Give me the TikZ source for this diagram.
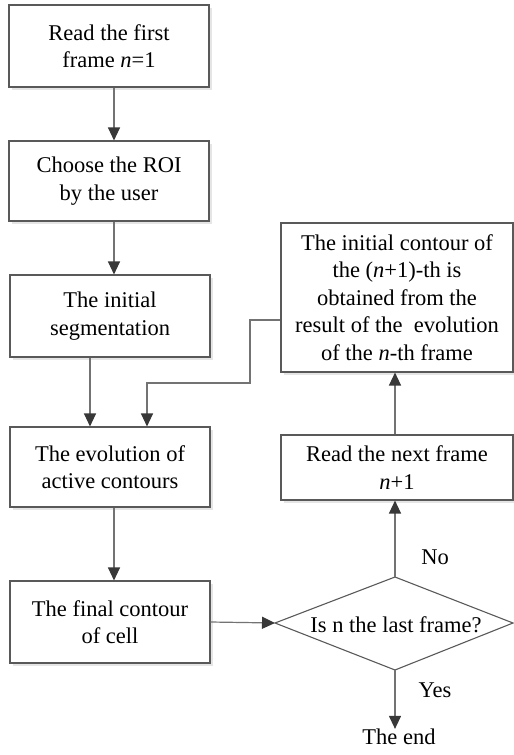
\documentclass[tikz,border=0pt]{standalone}
\usepackage{fontspec}
\setmainfont{Liberation Serif}
\usetikzlibrary{arrows.meta,shadows}
\begin{document}
\begin{tikzpicture}[x=1pt,y=-1pt,
 box/.style={draw=black!65, line width=1.1pt, fill=white, align=center, inner sep=0pt,
   font=\fontsize{22.5}{27.5}\selectfont,
   drop shadow={shadow xshift=3pt, shadow yshift=-3pt, fill=black!10, opacity=1}},
 conn/.style={draw=black!55, line width=1.2pt, -{Triangle[length=13pt,width=12pt,color=black!78]}},
 lbl/.style={font=\fontsize{22.5}{27.5}\selectfont, inner sep=0pt}]
\useasboundingbox (0,0) rectangle (514,755);
% left column
\node[box, minimum width=200pt, minimum height=82pt] (b1) at (109,46) {Read the first\\frame \textit{n}=1};
\node[box, minimum width=200pt, minimum height=80pt] (b2) at (109,181) {Choose the ROI\\by the user};
\node[box, minimum width=200pt, minimum height=82pt] (b3) at (110,316) {The initial\\segmentation};
\node[box, minimum width=200pt, minimum height=80pt] (b4) at (110,467) {The evolution of\\active contours};
\node[box, minimum width=200pt, minimum height=82pt] (b5) at (110,622) {The final contour\\of cell};
% right column
\node[box, minimum width=232pt, minimum height=149pt] (b6) at (397,297.5) {The initial contour of\\the (\textit{n}+1)-th is\\obtained from the\\result of the \ evolution\\of the \textit{n}-th frame};
\node[box, minimum width=232pt, minimum height=65pt] (b7) at (397,467.5) {Read the next frame\\\textit{n}+1};
% decision
\coordinate (dL) at (275,623);
\coordinate (dT) at (395,577);
\coordinate (dR) at (513,623);
\coordinate (dB) at (395,670);
\draw[draw=black!65, line width=1.1pt] (dL) -- (dT) -- (dR) -- (dB) -- cycle;
\node[lbl] (dec) at (396,625) {Is n the last frame?};
\node[lbl] (end) at (399,737) {The end};
\node[lbl] (yes) at (435,690) {Yes};
\node[lbl] (no) at (435,557) {No};
% connectors
\coordinate (ax) at (114,0);
\coordinate (cx) at (90,0);
\draw[conn] (b1.south -| ax) -- (b2.north -| ax);
\draw[conn] (b2.south -| ax) -- (b3.north -| ax);
\draw[conn] (b3.south -| cx) -- (b4.north -| cx);
\draw[conn] (b4.south -| ax) -- (b5.north -| ax);
\coordinate (f1) at (250,320);
\coordinate (f2) at (250,383);
\coordinate (f3) at (147,383);
\draw[conn] (b6.west |- f1) -- (f1) -- (f2) -- (f3) -- (b4.north -| f3);
\draw[conn] (b5.east) -- (dL);
\draw[conn] (dT) -- (b7.south -| dT);
\draw[conn] (b7.north -| dT) -- (b6.south -| dT);
\draw[conn] (dB) -- (end.north -| dB);
\end{tikzpicture}
\end{document}
